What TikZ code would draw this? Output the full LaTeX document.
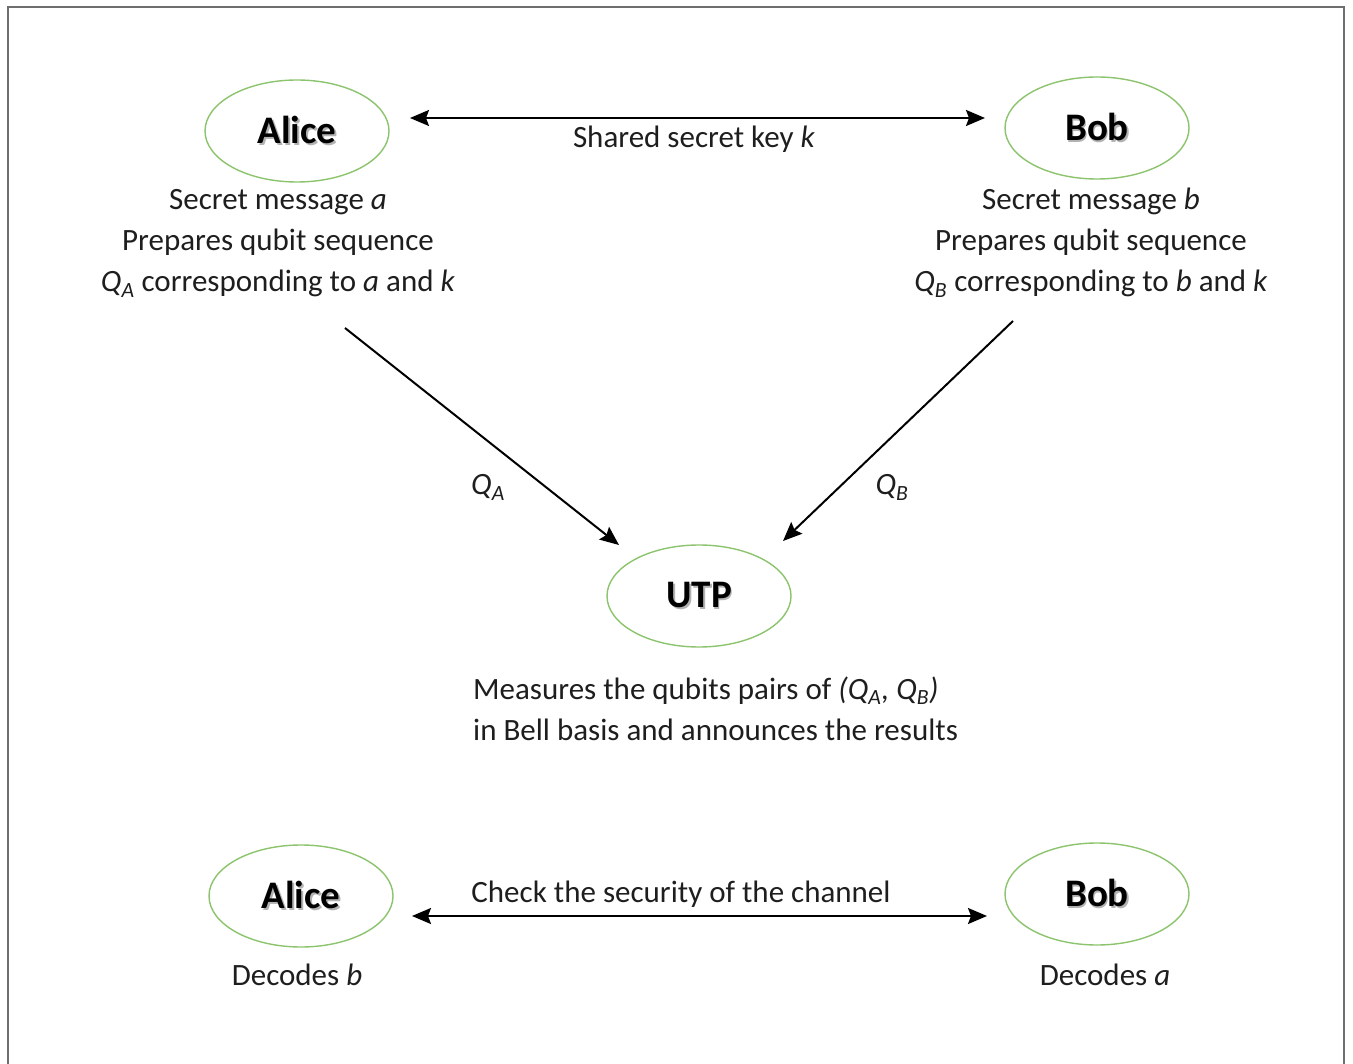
\documentclass[tikz,border=0pt]{standalone}
\usepackage{fontspec}
\setmainfont{Carlito}
\usetikzlibrary{arrows.meta,shapes.geometric}
\definecolor{ringgreen}{HTML}{8CC46E}
\definecolor{framegray}{HTML}{6E6E6E}
\definecolor{ink}{HTML}{1E1E1E}
% bold name with a soft drop shadow
\newcommand\shadowname[1]{\leavevmode\rlap{\kern1.8pt\raisebox{-1.8pt}{\color{black!30}#1}}#1}
\newcommand\qsub[1]{\textit{Q}\textsubscript{\textit{#1}}}
\begin{document}
\begin{tikzpicture}[x=1pt,y=-1pt,
  party/.style={ellipse, draw=ringgreen, line width=1.4pt, minimum width=184pt,
    minimum height=102pt, inner sep=0pt, text=black,
    font=\fontsize{39}{44}\selectfont\bfseries},
  note/.style={font=\fontsize{31}{41}\selectfont, text=ink, align=center, inner sep=0pt},
  link/.style={line width=2pt, draw=black, -{Stealth[length=19pt,width=16pt,inset=3pt]}},
  both/.style={line width=2pt, draw=black,
    {Stealth[length=19pt,width=16pt,inset=3pt]}-{Stealth[length=19pt,width=16pt,inset=3pt]}}]

\useasboundingbox (0,0) rectangle (1353,1064);
\fill[white] (0,0) rectangle (1353,1064);
\draw[framegray, line width=2pt] (8,1064) -- (8,7) -- (1344,7) -- (1344,1064);

% parties
\node[party] (alice) at (297,131) {\shadowname{Alice}};
\node[party] (bob) at (1097,128) {\shadowname{Bob}};
\node[party] (utp) at (699,596) {\shadowname{UTP}};
\node[party] (alice2) at (301,896) {\shadowname{Alice}};
\node[party] (bob2) at (1097,894) {\shadowname{Bob}};

% descriptions (base anchor sits on the last line)
\node[note, anchor=base] (alicetxt) at (278,292)
  {Secret message \textit{a}\\ Prepares qubit sequence\\ \qsub{A} corresponding to \textit{a} and \textit{k}};
\node[note, anchor=base] (bobtxt) at (1091,292)
  {Secret message \textit{b}\\ Prepares qubit sequence\\ \qsub{B} corresponding to \textit{b} and \textit{k}};
\node[note, anchor=base west, align=left] (utptxt) at (473,740)
  {Measures the qubits pairs of \textit{(}\qsub{A}\textit{,} \qsub{B}\textit{)}\\ in Bell basis and announces the results};
\node[note, anchor=base] (dec1) at (297,985) {Decodes \textit{b}};
\node[note, anchor=base] (dec2) at (1105,985) {Decodes \textit{a}};

% key exchange
\coordinate (kl) at (410,118);
\coordinate (kr) at (985,118);
\draw[both] (kl) -- (kr);
\node[note, anchor=base] (keylbl) at (694,148) {Shared secret key \textit{k}};

% qubit transmissions
\coordinate (qa) at (345,328);
\coordinate (qaend) at (619,545);
\coordinate (qb) at (1013,321);
\coordinate (qbend) at (783,541);
\draw[link] (qa) -- (qaend);
\draw[link] (qb) -- (qbend);
\node[note, anchor=base] (qalbl) at (488,495) {\qsub{A}};
\node[note, anchor=base] (qblbl) at (892,495) {\qsub{B}};

% security check
\coordinate (cl) at (412,916);
\coordinate (cr) at (987,916);
\draw[both] (cl) -- (cr);
\node[note, anchor=base] (chklbl) at (681,902) {Check the security of the channel};
\end{tikzpicture}
\end{document}
